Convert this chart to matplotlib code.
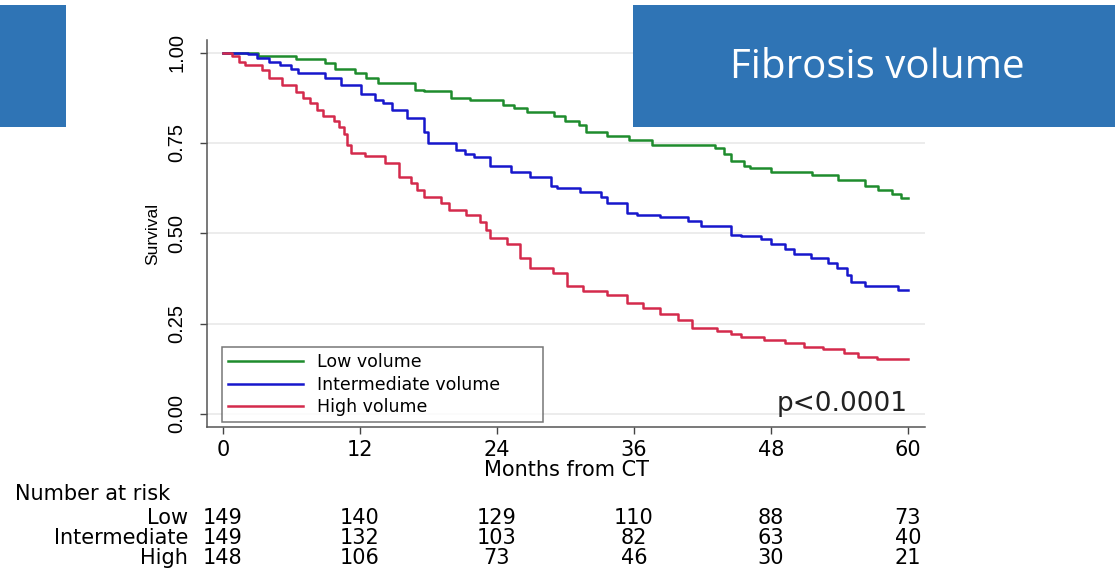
import matplotlib
matplotlib.use("Agg")
import matplotlib.pyplot as plt
from matplotlib.patches import Rectangle
import matplotlib.transforms as mtransforms

# Kaplan-Meier step estimates (months, survival)
low_t = [0, 3.1, 6.4, 8.9, 9.8, 11.6, 12.5, 13.6, 16.8, 17.6, 20.0, 21.6, 24.5, 25.5,
         26.6, 29.0, 30.0, 31.2, 31.8, 33.6, 35.6, 37.6, 43.1, 43.9, 44.5, 45.6, 46.2,
         48.0, 51.6, 53.9, 56.2, 57.4, 58.6, 59.4, 60]
low_s = [1.0, 0.990, 0.982, 0.970, 0.955, 0.944, 0.930, 0.916, 0.897, 0.895, 0.875, 0.868,
         0.855, 0.848, 0.837, 0.825, 0.812, 0.800, 0.780, 0.770, 0.758, 0.745, 0.735, 0.720,
         0.700, 0.685, 0.681, 0.671, 0.662, 0.648, 0.630, 0.620, 0.608, 0.598, 0.598]

mid_t = [0, 2.2, 3.0, 4.0, 5.0, 6.0, 6.6, 8.9, 10.3, 12.1, 13.3, 14.0, 14.8, 16.1, 17.6,
         18.0, 20.4, 21.2, 22.0, 23.4, 25.2, 26.9, 28.7, 29.3, 31.3, 33.1, 33.6, 35.4, 36.3,
         38.3, 40.7, 41.9, 44.5, 45.4, 47.1, 48.0, 49.2, 50.0, 51.5, 53.0, 53.8, 54.7, 55.0,
         56.2, 59.1, 60]
mid_s = [1.0, 0.995, 0.985, 0.975, 0.965, 0.955, 0.944, 0.930, 0.911, 0.885, 0.870, 0.860,
         0.842, 0.819, 0.780, 0.751, 0.731, 0.720, 0.710, 0.685, 0.671, 0.657, 0.630, 0.626,
         0.613, 0.600, 0.584, 0.557, 0.551, 0.545, 0.533, 0.521, 0.496, 0.492, 0.483, 0.471,
         0.456, 0.443, 0.431, 0.419, 0.404, 0.385, 0.366, 0.353, 0.343, 0.343]

high_t = [0, 0.8, 1.4, 1.9, 3.4, 4.0, 5.2, 6.4, 7.0, 7.6, 8.2, 8.8, 9.7, 10.2, 10.6, 10.9,
          11.2, 12.4, 14.2, 15.4, 16.5, 17.0, 17.6, 19.1, 19.8, 21.3, 22.5, 23.0, 23.4, 24.9,
          26.0, 26.9, 28.9, 30.1, 31.5, 33.6, 35.4, 36.8, 38.3, 39.9, 41.1, 43.3, 44.5, 45.4,
          47.4, 49.2, 50.9, 52.6, 54.4, 55.6, 57.3, 60]
high_s = [1.0, 0.990, 0.975, 0.967, 0.953, 0.930, 0.910, 0.890, 0.875, 0.860, 0.842, 0.826,
          0.810, 0.795, 0.775, 0.745, 0.723, 0.713, 0.695, 0.656, 0.640, 0.620, 0.601, 0.585,
          0.565, 0.550, 0.530, 0.510, 0.487, 0.470, 0.432, 0.404, 0.390, 0.355, 0.339, 0.330,
          0.307, 0.294, 0.276, 0.260, 0.238, 0.231, 0.221, 0.212, 0.204, 0.197, 0.186, 0.179,
          0.170, 0.157, 0.151, 0.151]

# number at risk table
risk_times = [0, 12, 24, 36, 48, 60]
risk_groups = ["Low", "Intermediate", "High"]
risk_low = [149, 140, 129, 110, 88, 73]
risk_mid = [149, 132, 103, 82, 63, 40]
risk_high = [148, 106, 73, 46, 30, 21]

y_ticks = [0.0, 0.25, 0.5, 0.75, 1.0]
y_ticklabels = ["0.00", "0.25", "0.50", "0.75", "1.00"]

GREEN = "#1e8c2d"
BLUE = "#1717cc"
RED = "#d42a4c"
SLIDE_BLUE = "#2f74b5"

W, H = 1115, 570
fig = plt.figure(figsize=(W / 100, H / 100), dpi=100)
ax = fig.add_axes([207 / W, 1 - 427 / H, 718 / W, 387 / H])

ax.step(low_t, low_s, where="post", color=GREEN, lw=1.8, label="Low volume")
ax.step(mid_t, mid_s, where="post", color=BLUE, lw=1.8, label="Intermediate volume")
ax.step(high_t, high_s, where="post", color=RED, lw=1.8, label="High volume")

ax.set_xlim(-1.4, 61.5)
ax.set_ylim(-0.036, 1.035)
ax.set_xticks(risk_times)
ax.set_yticks(y_ticks)
ax.set_yticklabels(y_ticklabels, rotation=90, va="center",
                   family="Liberation Sans", fontsize=14.5)
ax.tick_params(axis="x", labelsize=15, length=5, width=1, color="#444444", pad=4)
ax.tick_params(axis="y", length=5, width=1, color="#444444", pad=10)
ax.grid(axis="y", color="#ebebeb", lw=1.3)
ax.set_axisbelow(True)
for side in ("top", "right"):
    ax.spines[side].set_visible(False)
for side in ("left", "bottom"):
    ax.spines[side].set_color("#555555")
    ax.spines[side].set_linewidth(1.1)

ax.set_xlabel("Months from CT", fontsize=15, labelpad=0)
ax.set_ylabel("Survival", family="Liberation Sans", fontsize=12.5, labelpad=5)

leg = ax.legend(loc="lower left", bbox_to_anchor=(222 / W, 1 - 422 / H, 321 / W, 77 / H),
                bbox_transform=fig.transFigure, mode="expand", fontsize=12.5,
                frameon=True, fancybox=False, borderaxespad=0, handlelength=4.3,
                handletextpad=0.8, labelspacing=0.25, borderpad=0.35)
leg.get_frame().set_edgecolor("#555555")
leg.get_frame().set_linewidth(1.1)

ax.text(60, -0.009, "p<0.0001", ha="right", va="bottom", fontsize=19, color="#222222")

# number at risk rows under the x axis
blend = mtransforms.blended_transform_factory(ax.transData, fig.transFigure)
fig.text(15 / W, 1 - 494 / H, "Number at risk", fontsize=15, va="center", ha="left")
for row, (name, counts) in enumerate(zip(risk_groups, [risk_low, risk_mid, risk_high])):
    yy = 1 - (518 + row * 20) / H
    fig.text(188 / W, yy, name, fontsize=15, va="center", ha="right")
    for t, n in zip(risk_times, counts):
        ax.text(t, yy, str(n), transform=blend, fontsize=15, va="center", ha="center")

# slide title boxes
fig.patches.append(Rectangle((0, 1 - 127 / H), 66 / W, 122 / H, transform=fig.transFigure,
                             facecolor=SLIDE_BLUE, edgecolor="none", zorder=5))
fig.patches.append(Rectangle((633 / W, 1 - 127 / H), (W - 633) / W, 122 / H,
                             transform=fig.transFigure, facecolor=SLIDE_BLUE,
                             edgecolor="none", zorder=5))
fig.text(877 / W, 1 - 68 / H, "Fibrosis volume", family="Open Sans", fontsize=29,
         color="white", ha="center", va="center", zorder=6)

fig.savefig("out.png", dpi=100)
